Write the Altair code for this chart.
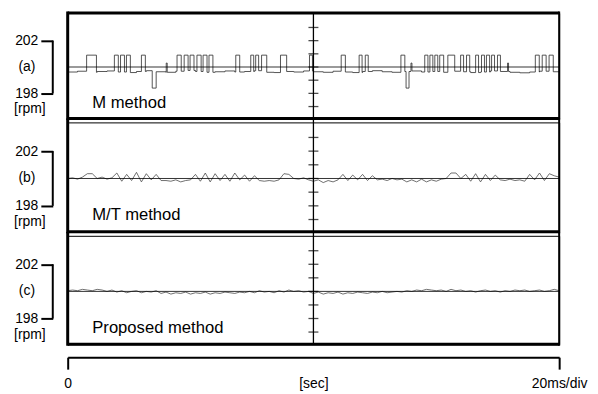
import altair as alt
import pandas as pd

FONT = "Liberation Sans"
W = 494
PANEL_H = [106, 110, 109]
Y_DOMAIN = [196.1, 204.1]
TIME_DOMAIN = [0, 200]

panel_tags = ["(a)", "(b)", "(c)"]
method_names = ["M method", "M/T method", "Proposed method"]
rpm_ticks = [198, 202]
centre_ticks = [197, 198, 199, 200, 201, 202, 203]
time_ticks = [0, 200]
time_tick_labels = ["0", "20ms/div"]
time_title = "[sec]"

# ---- (a) M method: baseline samples every 4 ms + quantisation pulses ----
base_a_step = 4
base_a = [199.62, 199.68, 199.60, 199.66, 199.70, 199.62, 199.58, 199.66, 199.72, 199.64,
          199.60, 199.68, 199.74, 199.66, 199.60, 199.64, 199.70, 199.62, 199.66, 199.72,
          199.60, 199.58, 199.66, 199.62, 199.70, 199.64, 199.60, 199.68, 199.62, 199.58,
          199.66, 199.72, 199.64, 199.60, 199.66, 199.70, 199.62, 199.66, 199.60, 199.68,
          199.64, 199.58, 199.62, 199.70, 199.66, 199.60, 199.56, 199.62, 199.68, 199.64,
          199.66]
pulse_start = [7.7, 19.0, 21.5, 23.9, 30.0, 34.4, 40.1, 44.5, 47.4, 49.8, 52.6, 55.1, 57.5,
               68.4, 74.5, 76.5, 78.9, 86.6, 98.4, 111.3, 118.6, 121.1, 135.6, 137.7, 139.7,
               145.3, 147.4, 149.4, 151.4, 154.7, 159.9, 162.3, 166.0, 168.4, 170.4, 172.5,
               174.9, 179.0, 190.3, 193.1, 195.9]
pulse_end = [11.7, 20.6, 23.1, 25.5, 31.6, 36.0, 40.5, 46.2, 49.0, 51.4, 54.3, 56.7, 59.1,
             70.0, 75.7, 77.7, 81.0, 89.1, 99.6, 113.0, 119.8, 122.3, 137.2, 138.9, 140.1,
             146.6, 148.6, 150.6, 153.0, 157.5, 161.1, 163.6, 167.2, 169.6, 171.7, 173.7,
             176.1, 179.4, 191.9, 194.7, 197.6]
pulse_level = [200.9, 200.9, 200.9, 200.9, 200.9, 198.4, 200.3, 200.9, 200.9, 200.9, 200.9, 200.9, 200.9,
               200.9, 200.9, 200.9, 200.9, 200.9, 200.9, 200.9, 200.9, 200.9, 200.9, 198.4, 200.3,
               200.9, 200.9, 200.9, 200.9, 200.9, 200.9, 200.9, 200.9, 200.9, 200.9, 200.9,
               200.9, 200.3, 200.9, 200.9, 200.9]

# ---- (b) M/T method and (c) proposed method, samples every 2 ms ----
sample_step = 2
rpm_b = [200.0, 200.05, 199.95, 200.1, 200.35, 200.35, 200.0, 200.1, 199.95, 200.05,
         200.4, 199.8, 200.3, 199.85, 200.45, 199.75, 200.35, 199.9, 200.3, 199.85,
         199.85, 199.8, 199.9, 199.75, 199.85, 199.9, 200.3, 199.8, 200.4, 199.75,
         200.35, 199.85, 200.3, 199.8, 200.4, 199.9, 200.25, 199.8, 200.2, 199.85,
         199.8, 199.85, 199.8, 199.9, 200.35, 200.3, 200.0, 199.95, 200.05, 199.9,
         199.8, 199.9, 199.7, 199.85, 199.75, 199.9, 200.3, 199.85, 200.25, 199.9,
         200.3, 199.85, 200.2, 199.9, 199.95, 199.85, 200.0, 199.9, 199.95, 199.75,
         199.9, 199.75, 199.95, 199.75, 199.9, 199.8, 199.95, 200.0, 200.4, 200.4,
         200.0, 200.3, 199.8, 200.35, 199.75, 200.3, 199.85, 200.25, 199.9, 199.85,
         199.95, 199.85, 199.9, 199.8, 200.3, 199.9, 200.4, 199.85, 200.35, 200.2,
         200.1]
rpm_c = [200.05, 200.1, 200.05, 200.15, 200.1, 200.05, 200.15, 200.1, 200.0, 200.1,
         199.95, 200.05, 199.9, 200.0, 200.05, 199.9, 200.0, 199.95, 200.05, 199.85,
         199.95, 199.8, 199.9, 199.85, 199.95, 199.8, 199.9, 199.85, 199.95, 199.8,
         199.9, 199.85, 199.95, 199.9, 199.85, 199.95, 199.9, 200.0, 199.9, 200.05,
         199.95, 200.0, 199.9, 200.05, 199.95, 200.1, 200.0, 200.05, 199.95, 200.0,
         199.85, 199.95, 199.8, 199.9, 199.85, 199.95, 199.8, 199.9, 199.85, 199.95,
         199.9, 199.85, 199.95, 199.9, 200.0, 199.9, 199.95, 200.0, 199.95, 200.05,
         200.0, 200.1, 200.05, 200.15, 200.1, 200.05, 200.1, 200.0, 200.15, 200.05,
         200.1, 200.0, 200.05, 199.95, 200.05, 200.1, 200.0, 200.05, 199.95, 200.05,
         200.0, 200.1, 200.05, 200.1, 200.0, 200.05, 200.1, 200.0, 200.05, 200.15,
         200.05]


def build_a():
    spans = list(zip(pulse_start, pulse_end))

    def inside(t):
        return any(s <= t <= e for s, e in spans)

    def base_at(t):
        return base_a[min(int(t // base_a_step), len(base_a) - 1)]

    rows = []
    for i, v in enumerate(base_a):
        t = i * base_a_step
        if not inside(t):
            rows.append((t, 0, v))
    for s, e, lv in zip(pulse_start, pulse_end, pulse_level):
        rows += [(s, 0, base_at(s)), (s, 1, lv), (e, 2, lv), (e, 3, base_at(e))]
    rows.sort(key=lambda r: (r[0], r[1]))
    return pd.DataFrame([{"t": r[0], "rpm": r[2], "i": k} for k, r in enumerate(rows)])


def build_sampled(values):
    return pd.DataFrame({"t": [i * sample_step for i in range(len(values))],
                         "rpm": values, "i": list(range(len(values)))})


traces = [build_a(), build_sampled(rpm_b), build_sampled(rpm_c)]
interps = ["step-after", "linear", "linear"]
trace_colors = ["#2a2a2a", "#4a4a4a", "#4a4a4a"]
one = pd.DataFrame({"k": [0]})


def panel(idx):
    H = PANEL_H[idx]
    df = traces[idx]
    last = idx == 2
    ysc = alt.Scale(domain=Y_DOMAIN, nice=False, zero=False)
    xsc = alt.Scale(domain=TIME_DOMAIN, nice=False, zero=False)
    yaxis = alt.Axis(values=rpm_ticks, orient="left", offset=15, tickSize=12, tickWidth=2,
                     tickColor="black", domain=False, grid=False, labelFontSize=14,
                     labelPadding=3, labelColor="black", labelFont=FONT, title=None)
    if last:
        xaxis = alt.Axis(values=time_ticks,
                         labelExpr="datum.value == %d ? '%s' : '%s'" % (time_ticks[0], time_tick_labels[0], time_tick_labels[1]),
                         orient="bottom", offset=13, tickSize=12, tickWidth=2, tickColor="black",
                         domainWidth=2, domainColor="black", grid=False, labelFontSize=14,
                         labelPadding=7, labelFont=FONT, labelColor="black", labelFlush=False,
                         title=time_title, titleFontSize=14, titleFontWeight="normal",
                         titleFont=FONT, titleColor="black", titleY=19, titleBaseline="top")
    else:
        xaxis = None

    def X(**kw):
        return alt.X(scale=xsc, axis=xaxis, **kw)

    def Y(**kw):
        return alt.Y(scale=ysc, axis=yaxis, **kw)

    top_ext = 0 if idx == 0 else -4
    layers = []
    trace = alt.Chart(df).mark_line(interpolate=interps[idx], strokeWidth=0.8, color=trace_colors[idx]).encode(
        x=X(field="t", type="quantitative"),
        y=Y(field="rpm", type="quantitative"),
        order=alt.Order("i:Q"),
    )
    layers.append(trace)
    # reference line at 200 rpm
    layers.append(alt.Chart(one).mark_rule(color="black", strokeWidth=0.8).encode(
        x=alt.value(0), x2=alt.value(W), y=Y(datum=200)))
    # centre graticule line and its ticks
    layers.append(alt.Chart(one).mark_rule(color="black", strokeWidth=1.3).encode(
        x=X(datum=100), y=alt.value(top_ext), y2=alt.value(H)))
    layers.append(alt.Chart(pd.DataFrame({"v": centre_ticks})).mark_tick(
        orient="horizontal", size=10, thickness=1.3, color="black").encode(
        x=X(datum=100), y=Y(field="v", type="quantitative")))
    # frame
    layers.append(alt.Chart(one).mark_rule(color="black", strokeWidth=3).encode(
        x=alt.value(0), y=alt.value(top_ext - (1.5 if idx == 0 else 0)), y2=alt.value(H + 1.5)))
    layers.append(alt.Chart(one).mark_rule(color="black", strokeWidth=2).encode(
        x=alt.value(W), y=alt.value(top_ext - (1.5 if idx == 0 else 0)), y2=alt.value(H + 1.5)))
    layers.append(alt.Chart(one).mark_rule(color="black", strokeWidth=3).encode(
        x=alt.value(0), x2=alt.value(W), y=alt.value(H)))
    if idx == 0:
        layers.append(alt.Chart(one).mark_rule(color="black", strokeWidth=3).encode(
            x=alt.value(0), x2=alt.value(W), y=alt.value(0)))
    # left bracket and labels
    layers.append(alt.Chart(one).mark_rule(color="black", strokeWidth=2).encode(
        x=alt.value(-15), y=Y(datum=rpm_ticks[0]), y2=alt.Y2(datum=rpm_ticks[1])))
    layers.append(alt.Chart(one).mark_text(font=FONT, fontSize=14, color="black",
                                           align="center", baseline="middle").encode(
        x=alt.value(-41), y=Y(datum=200), text=alt.value(panel_tags[idx])))
    layers.append(alt.Chart(one).mark_text(font=FONT, fontSize=14, color="black",
                                           align="center", baseline="middle").encode(
        x=alt.value(-38), y=Y(datum=196.8), text=alt.value("[rpm]")))
    layers.append(alt.Chart(one).mark_text(font=FONT, fontSize=16.7, color="black",
                                           align="left", baseline="middle").encode(
        x=X(datum=10), y=Y(datum=197.3), text=alt.value(method_names[idx])))
    return alt.layer(*layers).properties(width=W, height=H)


chart = alt.vconcat(panel(0), panel(1), panel(2), spacing=4, bounds="flush").properties(
    padding={"left": 5, "top": 0, "right": 2, "bottom": 0},
    background="white",
).configure_view(stroke="black", strokeWidth=1).configure_text(font=FONT)

chart.save("out.html", embed_options={"renderer": "svg", "actions": False})
